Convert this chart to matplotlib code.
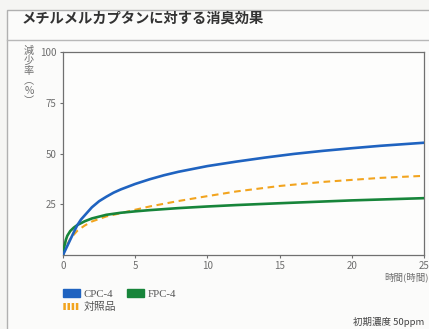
import matplotlib
matplotlib.use('Agg')
import matplotlib.pyplot as plt
from matplotlib.patches import Patch, Rectangle
from matplotlib.lines import Line2D

plt.rcParams['font.family'] = ['Noto Sans CJK JP', 'DejaVu Sans']
plt.rcParams['hatch.linewidth'] = 1.8

# values (hours, reduction %)
cpc_x = [0, 0.2, 0.4, 0.6, 0.8, 1, 1.25, 1.5, 2, 2.5, 3, 3.5, 4, 5, 6, 7, 8,
         10, 12, 14, 16, 18, 20, 22, 25]
cpc_y = [0, 3, 6, 9, 12, 14.8, 17.5, 19.5, 23.5, 26.5, 28.7, 30.7, 32.3, 35, 37.3, 39.3, 41,
         43.8, 46, 48, 49.8, 51.3, 52.6, 53.8, 55.3]

fpc_x = [0, 0.1, 0.2, 0.3, 0.5, 0.75, 1, 1.5, 2, 3, 4, 5, 6, 8, 10, 12, 15, 20, 25]
fpc_y = [0, 4.5, 7.5, 9.5, 11.8, 13.5, 14.8, 16.6, 18, 19.8, 20.8, 21.5, 22.1, 23.1, 23.9,
         24.6, 25.5, 26.9, 28]

ref_x = [0, 0.25, 0.5, 1, 1.5, 2, 3, 4, 5, 6, 8, 10, 12, 15, 18, 20, 22, 25]
ref_y = [0, 4.5, 8, 12, 14.5, 16.5, 19, 20.6, 22.3, 23.9, 26.6, 29, 31.3, 34, 36, 37, 38, 39]

x_ticks = [0, 5, 10, 15, 20, 25]
y_ticks = [25, 50, 75, 100]

blue = '#1f63c0'
green = '#17853a'
orange = '#f2a41e'
grey = '#6e6e6e'

fig = plt.figure(figsize=(4.29, 3.29), dpi=100, facecolor='#f5f5f3')

# outer frame and title band
fig.patches.append(Rectangle((7/429, -0.1), 1.0, 1 - 10/329 + 0.1, transform=fig.transFigure,
                             facecolor='#fbfbfa', edgecolor='#b0b0b0', lw=1.0, zorder=-5))
fig.lines.append(Line2D([7/429, 1.0], [1 - 40/329, 1 - 40/329], transform=fig.transFigure,
                        color='#b8b8b8', lw=1.0, zorder=-4))
fig.text(22/429, 1 - 19/329, 'メチルメルカプタンに対する消臭効果', fontsize=10.3,
         fontweight='bold', color='#333333', va='center', ha='left')

ax = fig.add_axes([63/429, 1 - 255/329, 361/429, 203/329])
ax.set_facecolor('#fdfdfc')

ax.plot(ref_x, ref_y, color=orange, lw=1.5, dashes=(3.2, 2.2), zorder=2)
ax.plot(fpc_x, fpc_y, color=green, lw=1.9, zorder=3)
ax.plot(cpc_x, cpc_y, color=blue, lw=1.9, zorder=4)

ax.set_xlim(0, 25)
ax.set_ylim(0, 100)
ax.set_xticks(x_ticks)
ax.set_yticks(y_ticks)
ax.tick_params(colors=grey, labelsize=7, length=2.5, width=0.8, pad=2)
for s in ax.spines.values():
    s.set_color('#707070')
    s.set_linewidth(0.9)

# vertical y label
fig.text(29/429, 1 - 46/329, '減\n少\n率\n︵\n%\n︶', fontsize=7.3,
         color=grey, va='top', ha='center', linespacing=1.0)
# x label
fig.text(1.0, 1 - 277/329, '時間(時間)', fontsize=6.8, color=grey, ha='right', va='center')

handles = [Patch(facecolor=blue, edgecolor=blue),
           Patch(facecolor='none', edgecolor=orange, hatch='||||', linewidth=0),
           Patch(facecolor=green, edgecolor=green)]
labels = ['CPC-4', '対照品', 'FPC-4']
leg = fig.legend(handles, labels, ncol=2, loc='upper left', bbox_to_anchor=(63/429, 1 - 289/329),
                 frameon=False, fontsize=7.8, handlelength=1.55, handleheight=0.7,
                 handletextpad=0.35, columnspacing=1.0, labelspacing=0.35, borderaxespad=0,
                 borderpad=0)
for t in leg.get_texts():
    t.set_color('#555555')
    if t.get_text().startswith(('CPC', 'FPC')):
        t.set_family(['Liberation Serif'])

fig.text(424/429, 1 - 322/329, '初期濃度 50ppm', fontsize=6.8, color='#444444',
         ha='right', va='center')

fig.savefig('out.png', dpi=100, facecolor=fig.get_facecolor())
